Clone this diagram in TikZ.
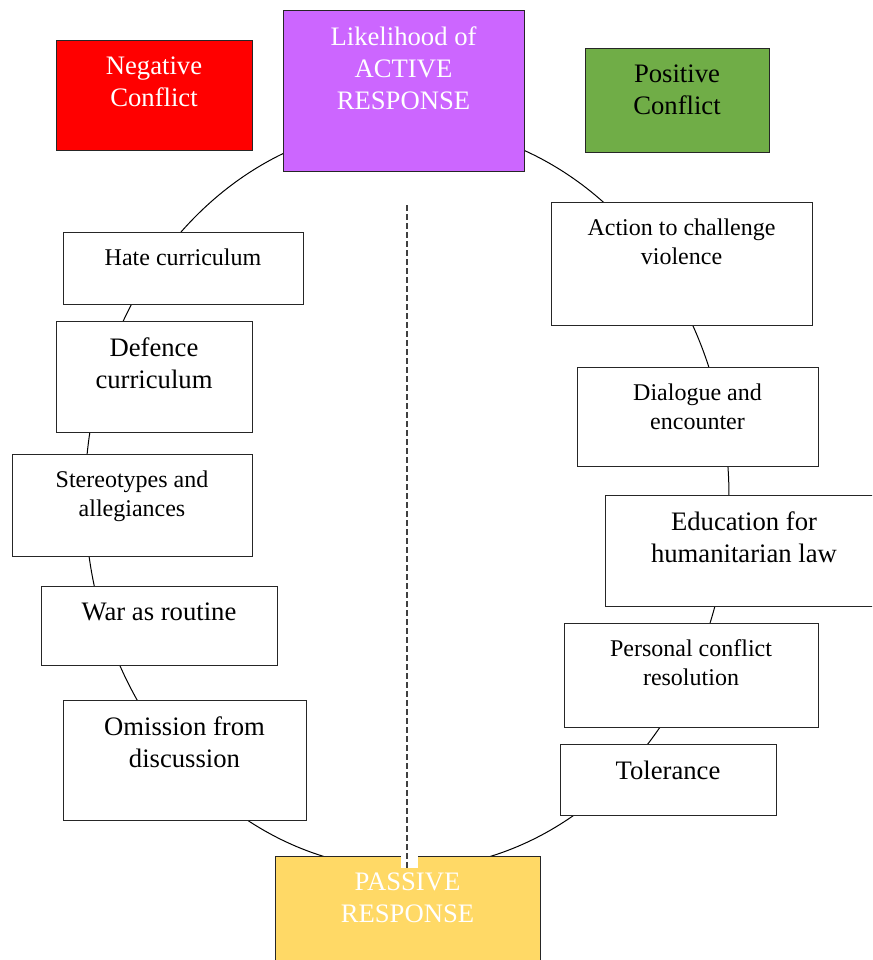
\documentclass[tikz,border=0pt]{standalone}
\usepackage{fontspec}
\setmainfont{Liberation Serif}
\usetikzlibrary{fit}
\definecolor{negred}{HTML}{FF0000}
\definecolor{actpurple}{HTML}{CC66FF}
\definecolor{posgreen}{HTML}{70AD47}
\definecolor{pasyellow}{HTML}{FFD966}
\begin{document}
\begin{tikzpicture}[x=0.75pt,y=-0.75pt,
  nbox/.style={draw=black!85,line width=0.6pt,fill=white,inner sep=0pt},
  ltxt/.style={anchor=north,yshift=-12.75pt,inner sep=0pt,align=center,font=\fontsize{20}{24}\selectfont},
  stxt/.style={ltxt,font=\fontsize{18}{21.5}\selectfont}]
\path[use as bounding box,clip](0,0)rectangle(872,960);
\draw[line width=0.75pt](407,497)ellipse[x radius=322,y radius=372];
\node[nbox,fill=negred,fit={(56,40)(252,150)},label={[ltxt,white]north:Negative\\Conflict}](neg){};
\node[nbox,fill=actpurple,fit={(283,10)(524,171)},label={[ltxt,white]north:Likelihood of\\ACTIVE\\RESPONSE}](active){};
\node[nbox,fill=posgreen,fit={(585,48)(769,152)},label={[ltxt]north:Positive\\Conflict}](pos){};
\node[nbox,fit={(63,232)(303,304)},label={[stxt]north:Hate curriculum}](hate){};
\node[nbox,fit={(56,321)(252,432)},label={[ltxt]north:Defence\\curriculum}](defence){};
\node[nbox,fit={(12,454)(252,556)},label={[stxt]north:Stereotypes and\\allegiances}](stereo){};
\node[nbox,fit={(41,586)(277,665)},label={[ltxt]north:War as routine}](routine){};
\node[nbox,fit={(63,700)(306,820)},label={[ltxt]north:Omission from\\discussion}](omission){};
\node[nbox,fit={(551,202)(812,325)},label={[stxt]north:Action to challenge\\violence}](action){};
\node[nbox,fit={(577,367)(818,466)},label={[stxt]north:Dialogue and\\encounter}](dialogue){};
\node[nbox,fit={(605,495)(883,606)},label={[ltxt]north:Education for\\humanitarian law}](education){};
\node[nbox,fit={(564,623)(818,727)},label={[stxt]north:Personal conflict\\resolution}](personal){};
\node[nbox,fit={(560,744)(776,815)},label={[ltxt]north:Tolerance}](tolerance){};
\node[nbox,fill=pasyellow,fit={(275,856)(540,975)},label={[ltxt,white]north:PASSIVE\\RESPONSE}](passive){};
\fill[white](401,856)rectangle(418,868);
\coordinate(dtop)at(407,205);
\coordinate(dbot)at(407,868);
\draw[black!75,line width=1.1pt,dash pattern=on 4.5pt off 2.25pt](dtop)--(dbot);
\end{tikzpicture}
\end{document}
